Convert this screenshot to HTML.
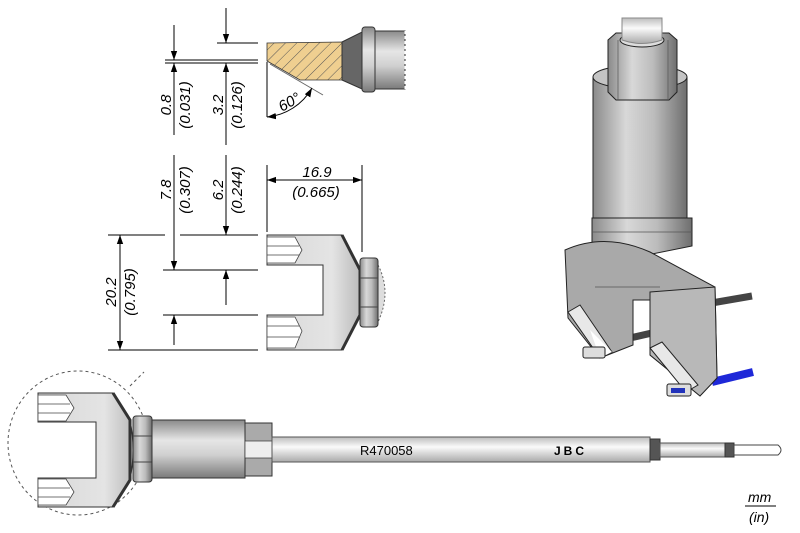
<!DOCTYPE html>
<html><head><meta charset="utf-8"><style>
html,body{margin:0;padding:0;background:#fff}
svg{display:block}
text{font-family:"Liberation Sans",sans-serif;font-style:italic;fill:#000}
</style></head><body>
<svg width="800" height="533" viewBox="0 0 800 533" xmlns="http://www.w3.org/2000/svg">
<defs>
<linearGradient id="gv" x1="0" y1="0" x2="0" y2="1">
<stop offset="0" stop-color="#8a8a8a"/><stop offset="0.35" stop-color="#e6e6e6"/><stop offset="0.6" stop-color="#d0d0d0"/><stop offset="1" stop-color="#7a7a7a"/></linearGradient>
<linearGradient id="gh" x1="0" y1="0" x2="1" y2="0">
<stop offset="0" stop-color="#8a8a8a"/><stop offset="0.35" stop-color="#d8d8d8"/><stop offset="0.65" stop-color="#bcbcbc"/><stop offset="1" stop-color="#6e6e6e"/></linearGradient>
<linearGradient id="gs" x1="0" y1="0" x2="0" y2="1">
<stop offset="0" stop-color="#bdbdbd"/><stop offset="0.4" stop-color="#fafafa"/><stop offset="1" stop-color="#aaa"/></linearGradient>
<linearGradient id="gf" x1="0" y1="0" x2="1" y2="0">
<stop offset="0" stop-color="#d8d8d8"/><stop offset="0.7" stop-color="#e4e4e4"/><stop offset="1" stop-color="#bbb"/></linearGradient>
<pattern id="hatch" width="8" height="8" patternUnits="userSpaceOnUse" patternTransform="rotate(45)">
<rect width="8" height="8" fill="#efcf90"/><line x1="0" y1="0" x2="0" y2="8" stroke="#555" stroke-width="1"/></pattern>
<marker id="ar" viewBox="0 0 10 10" refX="10" refY="5" markerWidth="9" markerHeight="9" orient="auto-start-reverse" markerUnits="userSpaceOnUse"><path d="M0,1.5 L10,5 L0,8.5 z" fill="#000"/></marker>
</defs>

<g stroke="#000" stroke-width="1" fill="none">
<line x1="165" y1="60" x2="258" y2="60"/><line x1="165" y1="63" x2="258" y2="63"/>
<line x1="217" y1="43" x2="258" y2="43"/>
<line x1="174" y1="25" x2="174" y2="60" marker-end="url(#ar)"/>
<line x1="174" y1="135" x2="174" y2="63" marker-end="url(#ar)"/>
<line x1="226" y1="8" x2="226" y2="43" marker-end="url(#ar)"/>
<line x1="226" y1="145" x2="226" y2="63" marker-end="url(#ar)"/>
<line x1="267" y1="62" x2="267" y2="117"/>
<line x1="270" y1="64" x2="323" y2="95" stroke="#666"/>
<path d="M267,117 A58,58 0 0 0 312,88" marker-start="url(#ar)" marker-end="url(#ar)"/>
<line x1="267" y1="165" x2="267" y2="232"/><line x1="362" y1="165" x2="362" y2="252"/>
<line x1="267" y1="180" x2="362" y2="180" marker-start="url(#ar)" marker-end="url(#ar)"/>
<line x1="180" y1="235" x2="258" y2="235"/>
<line x1="163" y1="270" x2="258" y2="270"/>
<line x1="163" y1="315" x2="258" y2="315"/>
<line x1="108" y1="350" x2="258" y2="350"/>
<line x1="108" y1="235" x2="165" y2="235"/>
<line x1="174" y1="155" x2="174" y2="270" marker-end="url(#ar)"/>
<line x1="174" y1="345" x2="174" y2="315" marker-end="url(#ar)"/>
<line x1="226" y1="155" x2="226" y2="235" marker-end="url(#ar)"/>
<line x1="226" y1="305" x2="226" y2="270" marker-end="url(#ar)"/>
<line x1="120" y1="235" x2="120" y2="350" marker-start="url(#ar)" marker-end="url(#ar)"/>
</g>

<g font-size="15">
<text transform="translate(171,105) rotate(-90)" text-anchor="middle">0.8</text>
<text transform="translate(190,105) rotate(-90)" text-anchor="middle">(0.031)</text>
<text transform="translate(223,105) rotate(-90)" text-anchor="middle">3.2</text>
<text transform="translate(242,105) rotate(-90)" text-anchor="middle">(0.126)</text>
<text transform="translate(171,190) rotate(-90)" text-anchor="middle">7.8</text>
<text transform="translate(190,190) rotate(-90)" text-anchor="middle">(0.307)</text>
<text transform="translate(223,190) rotate(-90)" text-anchor="middle">6.2</text>
<text transform="translate(242,190) rotate(-90)" text-anchor="middle">(0.244)</text>
<text transform="translate(116,292) rotate(-90)" text-anchor="middle">20.2</text>
<text transform="translate(135,292) rotate(-90)" text-anchor="middle">(0.795)</text>
<text x="317" y="177" text-anchor="middle">16.9</text>
<text x="316" y="197" text-anchor="middle">(0.665)</text>
<text transform="translate(282,112) rotate(-30)">60°</text>
</g>

<polygon points="267,43 342,42 342,80 300,80 267,61" fill="url(#hatch)" stroke="#333" stroke-width="0.8"/>
<polygon points="342,42 362,32 362,89 342,80" fill="#666" stroke="#333"/>
<rect x="362" y="27" width="13" height="65" rx="3" fill="url(#gv)" stroke="#333"/>
<rect x="375" y="31" width="30" height="58" fill="url(#gv)" stroke="#333"/>
<line x1="405" y1="31" x2="405" y2="89" stroke="#fff" stroke-dasharray="3,2"/>

<path d="M267,235 L342,235 L360,270 L360,315 L342,350 L267,350 L267,315 L323,315 L323,265 L267,265 Z" fill="url(#gf)" stroke="#333"/>
<path d="M342,235 L360,270 L360,315 L342,350" fill="none" stroke="#333" stroke-width="3"/>
<g stroke="#444" stroke-width="0.8" fill="#fff">
<path d="M267,237 L295,237 L302,250 L295,263 L267,263 Z"/>
<path d="M267,317 L295,317 L302,331 L295,348 L267,348 Z"/>
<line x1="267" y1="246" x2="299" y2="246"/><line x1="267" y1="255" x2="299" y2="255"/>
<line x1="267" y1="326" x2="299" y2="326"/><line x1="267" y1="337" x2="299" y2="337"/>
</g>
<path d="M378,265 Q392,292 378,322 Z" fill="#ddd" stroke="#666" stroke-dasharray="2,2"/>
<rect x="360" y="258" width="18" height="69" rx="3" fill="url(#gh)" stroke="#333"/>
<line x1="360" y1="278" x2="378" y2="278" stroke="#444"/><line x1="360" y1="307" x2="378" y2="307" stroke="#444"/>

<ellipse cx="78" cy="443" rx="70" ry="72" fill="none" stroke="#555" stroke-dasharray="3,3"/>
<line x1="130" y1="386" x2="144" y2="372" stroke="#555" stroke-dasharray="3,3"/>
<path d="M38,393 L113,393 L130,420 Q136,450 130,480 L113,507 L38,507 L38,478 L96,478 L96,422 L38,422 Z" fill="url(#gf)" stroke="#333"/>
<path d="M113,393 L130,420 L130,480 L113,507" fill="none" stroke="#333" stroke-width="3"/>
<g stroke="#444" stroke-width="0.8" fill="#fff">
<path d="M38,395 L66,395 L74,408 L66,421 L38,421 Z"/>
<path d="M38,479 L66,479 L74,492 L66,505 L38,505 Z"/>
<line x1="38" y1="404" x2="70" y2="404"/><line x1="38" y1="413" x2="70" y2="413"/>
<line x1="38" y1="488" x2="70" y2="488"/><line x1="38" y1="497" x2="70" y2="497"/>
</g>
<rect x="133" y="416" width="19" height="66" rx="3" fill="url(#gh)" stroke="#333"/>
<line x1="133" y1="436" x2="152" y2="436" stroke="#444"/><line x1="133" y1="462" x2="152" y2="462" stroke="#444"/>
<rect x="152" y="420" width="93" height="58" fill="url(#gv)" stroke="#333"/>
<rect x="245" y="423" width="27" height="53" fill="#aaa" stroke="#333"/>
<rect x="245" y="441" width="27" height="17" fill="#eee" stroke="#333" stroke-width="0.7"/>
<rect x="272" y="437" width="378" height="25" fill="url(#gs)" stroke="#555"/>
<rect x="650" y="439" width="10" height="21" fill="#555" stroke="#333"/>
<rect x="660" y="443" width="65" height="14" fill="url(#gs)" stroke="#555"/>
<rect x="725" y="443" width="9" height="14" fill="#555" stroke="#333"/>
<path d="M734,445 L778,445 Q784,450 778,455 L734,455 Z" fill="#fff" stroke="#444"/>
<text x="360" y="455" font-size="13" style="font-style:normal">R470058</text>
<text x="554" y="455" font-size="12" font-weight="bold" style="font-style:normal;letter-spacing:3px">JBC</text>
<text x="748" y="502" font-size="14">mm</text>
<line x1="745" y1="506" x2="776" y2="506" stroke="#000"/>
<text x="749" y="522" font-size="14">(in)</text>

<!-- 3D view -->
<g stroke="#222" stroke-width="1">
<line x1="700" y1="305" x2="752" y2="296" stroke="#444" stroke-width="7"/>
<line x1="630" y1="338" x2="700" y2="322" stroke="#444" stroke-width="7"/>
<line x1="712" y1="382" x2="753" y2="372" stroke="#1e28d8" stroke-width="8"/>
<path d="M593,77 L687,77 L687,218 L593,218 Z" fill="url(#gh)"/>
<ellipse cx="640" cy="77" rx="47" ry="12" fill="#c4c4c4"/>
<path d="M608,40 L616,33 L669,33 L677,40 L677,92 L669,100 L616,100 L608,92 Z" fill="url(#gh)"/>
<line x1="618" y1="40" x2="618" y2="100" stroke="#555" stroke-width="0.7"/>
<line x1="668" y1="40" x2="668" y2="100" stroke="#555" stroke-width="0.7"/>
<ellipse cx="642" cy="40" rx="22" ry="7" fill="#ddd"/>
<path d="M622,18 L662,18 L662,40 Q642,47 622,40 Z" fill="url(#gs)" stroke="#888"/>
<path d="M592,218 L692,218 L692,246 L642,256 L592,246 Z" fill="url(#gh)"/>
<line x1="592" y1="232" x2="692" y2="232" stroke="#555" stroke-width="0.7"/>
<path d="M565,250 Q605,232 650,252 L715,287 L717,378 L700,396 L650,355 L650,300 L633,300 L633,345 L600,358 L568,318 Z" fill="#a9a9a9"/>
<path d="M650,292 L715,287 L717,378 L700,396 L650,355 Z" fill="#b8b8b8"/>
<path d="M595,287 L660,287" stroke="#555" stroke-width="0.8"/>
<path d="M568,312 L580,305 L612,352 L600,358 Z" fill="#e8e8e8"/>
<path d="M650,348 L662,342 L698,385 L686,392 Z" fill="#e8e8e8"/>
<path d="M590,330 L612,352 L600,358 Z" fill="#fff" stroke="none"/>
<rect x="583" y="347" width="22" height="11" rx="2" fill="#ddd"/>
<rect x="667" y="384" width="24" height="12" rx="2" fill="#ddd"/>
<rect x="671" y="388" width="14" height="5" fill="#2233bb" stroke="none"/>
</g>
</svg>
</body></html>
